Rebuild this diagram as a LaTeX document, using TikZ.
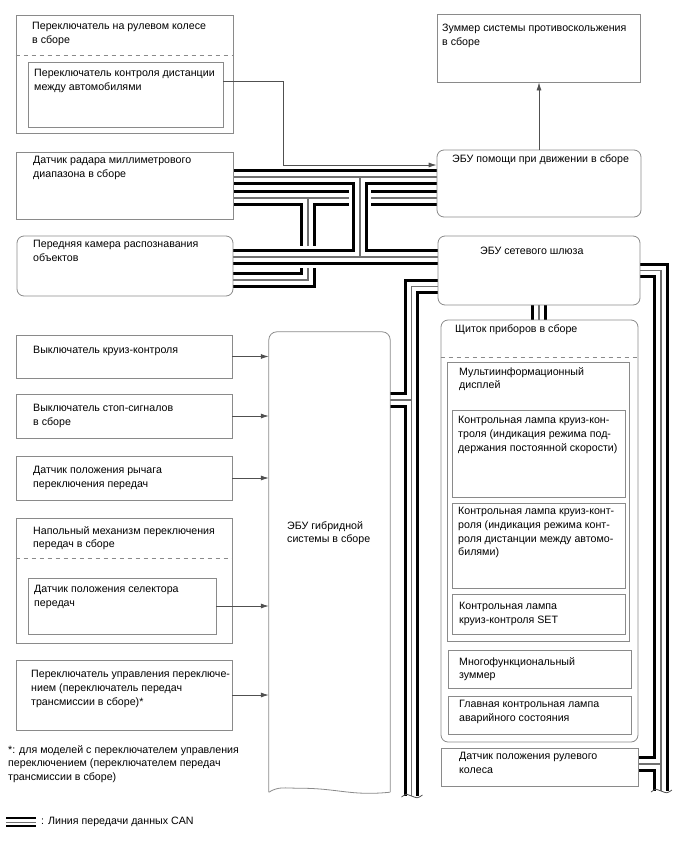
\documentclass[tikz,border=0pt]{standalone}
\usepackage{fontspec}
\setmainfont{Liberation Sans}
\usetikzlibrary{arrows.meta,calc}
\pgfdeclarelayer{bg}
\pgfsetlayers{bg,main}
\definecolor{boxgray}{HTML}{8a8a8a}
\definecolor{linegray}{HTML}{505050}
\definecolor{midgray}{HTML}{707070}
\newcommand{\mybox}[6]{\node[bx,#1,minimum width={(#4-#2)*1pt},minimum height={(#5-#3)*1pt}] (#6) at ({(#2+#4)/2},{(#3+#5)/2}) {};}
\newcommand{\mytext}[4]{\node[txt,anchor=north west] (#1) at (#2,#3) {#4};}
\newcommand{\drawbus}[1]{\draw[canblack] #1; \draw[canwhite] #1; \draw[cangray] #1;}
\begin{document}
\begin{tikzpicture}[x=1pt,y=-1pt,
  bx/.style={draw=boxgray,line width=0.8pt,inner sep=0pt},
  rnd/.style={rounded corners=7pt},
  txt/.style={inner sep=0pt,align=left,font=\fontsize{10.65}{13.8}\selectfont},
  dashsep/.style={draw=boxgray,line width=0.7pt,dash pattern=on 4.5pt off 3.5pt},
  conn/.style={draw=linegray,line width=0.8pt,-{Latex[length=8pt,width=5pt]}},
  canblack/.style={line width=15.5pt,black},
  canwhite/.style={line width=9.5pt,white},
  cangray/.style={line width=1.1pt,midgray},
  canunder/.style={line width=22pt,white},
  brk/.style={draw=linegray,line width=0.8pt}]
\useasboundingbox (0,0) rectangle (688,852);
% ---------- boxes ----------
\mybox{}{16}{15}{233}{133}{sw}
\mybox{}{28}{62}{223}{127}{swin}
\mybox{}{437}{14}{640}{82}{zum}
\mybox{rnd}{437}{150}{641}{217}{assist}
\mybox{}{16}{152}{233}{219}{radar}
\mybox{rnd}{17}{236}{233}{296}{camera}
\mybox{rnd}{438}{236}{640}{305}{gateway}
\mybox{}{16}{335}{232}{378}{cruise}
\mybox{}{16}{394}{232}{438}{stop}
\mybox{}{16}{456}{232}{500}{lever}
\mybox{}{16}{518}{232}{643}{floor}
\mybox{}{28}{578}{216}{634}{floorin}
\mybox{}{16}{660}{232}{730}{shiftsw}
\mybox{rnd}{441}{320}{638}{742}{cluster}
\mybox{}{447}{362}{629}{641}{multi}
\mybox{}{452}{410}{625}{497}{lampA}
\mybox{}{452}{503}{625}{588}{lampB}
\mybox{}{452}{594}{625}{634}{lampset}
\mybox{}{448}{650}{631}{688}{buzz}
\mybox{}{448}{696}{631}{734}{mainw}
\mybox{}{441}{748}{638}{786}{steer}
\node[inner sep=0pt,minimum width=121pt,minimum height=458pt] (hybrid) at (329.5,561) {};
\draw[boxgray,line width=0.8pt,rounded corners=8pt] ($(hybrid.south west)+(0,2)$) -- (hybrid.north west) -- (hybrid.north east) -- ($(hybrid.south east)+(0,2)$);
\draw[boxgray,line width=0.8pt] ($(hybrid.south west)+(0,2)$) .. controls +(10,-6) and +(-15,0) .. ($(hybrid.south west)+(30,-2)$) .. controls +(40,0) and +(-40,4) .. ($(hybrid.south east)+(0,2)$);
% dashed separators
\draw[dashsep] (sw.west |- 0,55) -- (sw.east |- 0,55);
\draw[dashsep] (floor.west |- 0,558) -- (floor.east |- 0,558);
\draw[dashsep] (cluster.west |- 0,357) -- (cluster.east |- 0,357);
% ---------- texts ----------
\mytext{tsw}{32}{22}{Переключатель на рулевом колесе\\в сборе}
\mytext{tswin}{34}{69}{Переключатель контроля дистанции\\между автомобилями}
\mytext{tzum}{442}{24}{Зуммер системы противоскольжения\\в сборе}
\mytext{tassist}{452}{154}{ЭБУ помощи при движении в сборе}
\mytext{tradar}{33}{156}{Датчик радара миллиметрового\\диапазона в сборе}
\mytext{tcamera}{33}{240}{Передняя камера распознавания\\объектов}
\mytext{tgateway}{480}{247}{ЭБУ сетевого шлюза}
\mytext{tcruise}{33}{346}{Выключатель круиз-контроля}
\mytext{tstop}{33}{404}{Выключатель стоп-сигналов\\в сборе}
\mytext{tlever}{33}{466}{Датчик положения рычага\\переключения передач}
\mytext{tfloor}{33}{526}{Напольный механизм переключения\\передач в сборе}
\mytext{tfloorin}{34}{585}{Датчик положения селектора\\передач}
\mytext{tshift}{31}{670}{Переключатель управления переключе-\\нием (переключатель передач\\трансмиссии в сборе)*}
\mytext{thybrid}{287}{521}{ЭБУ гибридной\\системы в сборе}
\mytext{tcluster}{455}{324}{Щиток приборов в сборе}
\mytext{tmulti}{459}{367}{Мультиинформационный\\дисплей}
\mytext{tlampA}{458}{416}{Контрольная лампа круиз-кон-\\троля (индикация режима под-\\держания постоянной скорости)}
\mytext{tlampB}{458}{507}{Контрольная лампа круиз-конт-\\роля (индикация режима конт-\\роля дистанции между автомо-\\билями)}
\mytext{tlampset}{459}{602}{Контрольная лампа\\круиз-контроля SET}
\mytext{tbuzz}{459}{657}{Многофункциональный\\зуммер}
\mytext{tmainw}{459}{700}{Главная контрольная лампа\\аварийного состояния}
\mytext{tsteer}{459}{752}{Датчик положения рулевого\\колеса}
\mytext{tnote}{8}{745}{*: для моделей с переключателем управления\\переключением (переключателем передач\\трансмиссии в сборе)}
\mytext{tlegend}{41}{817}{: Линия передачи данных CAN}
% ---------- connectors ----------
\coordinate (k1) at (283,81);
\coordinate (k2) at (283,165);
\draw[conn] (swin.east |- k1) -- (k1) -- (k2) -- (assist.west |- k2);
\draw[conn] (assist.north) -- (assist.north |- zum.south);
\draw[conn] (cruise.east) -- (cruise.east -| hybrid.west);
\draw[conn] (stop.east) -- (stop.east -| hybrid.west);
\draw[conn] (lever.east) -- (lever.east -| hybrid.west);
\draw[conn] (floorin.east) -- (floorin.east -| hybrid.west);
\draw[conn] (shiftsw.east) -- (shiftsw.east -| hybrid.west);
% ---------- CAN buses ----------
\coordinate (b1a) at (360,177);
\coordinate (b1b) at (360,257);
\coordinate (b2a) at (308,198);
\coordinate (b2b) at (308,280);
\coordinate (gla) at (411.5,286.5);
\coordinate (glb) at (411.5,400);
\coordinate (glc) at (411.5,796);
\coordinate (gra) at (661,270.5);
\coordinate (grb) at (661,764);
\coordinate (grc) at (661,791);
\coordinate (lega) at (6,822);
\coordinate (legb) at (36,822);
\begin{pgfonlayer}{bg}
\drawbus{(radar.east |- b2a) -- (assist.west |- b2a) (b2a) -- (b2b) -- (camera.east |- b2b)}
\draw[canunder] (b1a) -- (b1b) (camera.east |- b1b) -- (gateway.west |- b1b);
\drawbus{(radar.east |- b1a) -- (assist.west |- b1a) (b1a) -- (b1b) (camera.east |- b1b) -- (gateway.west |- b1b)}
\drawbus{(gateway.west |- gla) -- (gla) -- (glc) (glb) -- (hybrid.east |- glb)}
\drawbus{(gateway.east |- gra) -- (gra) -- (grc) (grb) -- (steer.east |- grb)}
\drawbus{(gateway.south) -- (gateway.south |- cluster.north)}
\draw[line width=10pt,black] (lega) -- (legb);
\draw[line width=6pt,white] (lega) -- (legb);
\draw[line width=0.9pt,midgray] (lega) -- (legb);
\end{pgfonlayer}
\draw[brk] ($(grc)+(-10,1)$) .. controls +(6,-4) and +(-6,-2) .. ($(grc)+(0,0)$) .. controls +(6,2) and +(-6,4) .. ($(grc)+(11,-1)$);
\draw[brk] ($(glc)+(-10,1)$) .. controls +(6,-4) and +(-6,-2) .. ($(glc)+(0,0)$) .. controls +(6,2) and +(-6,4) .. ($(glc)+(11,-1)$);
\end{tikzpicture}
\end{document}
